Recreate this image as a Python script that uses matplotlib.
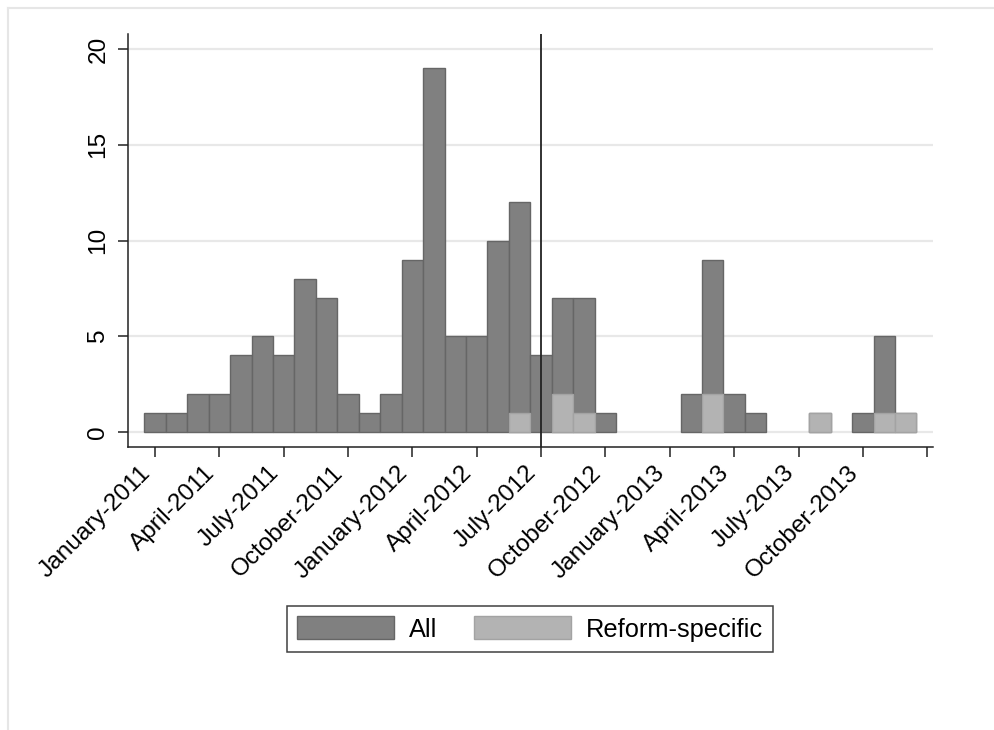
import matplotlib
matplotlib.use("Agg")
import matplotlib.pyplot as plt
from matplotlib.lines import Line2D
from matplotlib.patches import Patch
import numpy as np

plt.rcParams['font.family'] = ['Liberation Sans', 'DejaVu Sans']

# Monthly counts, January 2011 .. December 2013
months = ["Jan-2011", "Feb-2011", "Mar-2011", "Apr-2011", "May-2011", "Jun-2011",
          "Jul-2011", "Aug-2011", "Sep-2011", "Oct-2011", "Nov-2011", "Dec-2011",
          "Jan-2012", "Feb-2012", "Mar-2012", "Apr-2012", "May-2012", "Jun-2012",
          "Jul-2012", "Aug-2012", "Sep-2012", "Oct-2012", "Nov-2012", "Dec-2012",
          "Jan-2013", "Feb-2013", "Mar-2013", "Apr-2013", "May-2013", "Jun-2013",
          "Jul-2013", "Aug-2013", "Sep-2013", "Oct-2013", "Nov-2013", "Dec-2013"]
all_counts = [1, 1, 2, 2, 4, 5, 4, 8, 7, 2, 1, 2,
              9, 19, 5, 5, 10, 12, 4, 7, 7, 1, 0, 0,
              0, 2, 9, 2, 1, 0, 0, 1, 0, 1, 5, 1]
reform_counts = [0, 0, 0, 0, 0, 0, 0, 0, 0, 0, 0, 0,
                 0, 0, 0, 0, 0, 1, 0, 2, 1, 0, 0, 0,
                 0, 0, 2, 0, 0, 0, 0, 1, 0, 0, 1, 1]
tick_labels = ["January-2011", "April-2011", "July-2011", "October-2011",
               "January-2012", "April-2012", "July-2012", "October-2012",
               "January-2013", "April-2013", "July-2013", "October-2013", ""]
reform_month = "Jul-2012"

x = np.arange(len(months))

fig = plt.figure(figsize=(9.94, 7.30), dpi=100)
ax = fig.add_axes([128/994, 1 - 447/730, (933 - 128)/994, (447 - 34)/730])

# gridlines
ax.set_axisbelow(True)
ax.yaxis.grid(True, color='#e8e8e8', linewidth=1.6)

all_arr = np.array(all_counts)
ref_arr = np.array(reform_counts)
m_all = all_arr > 0
ax.bar(x[m_all], all_arr[m_all], width=1.0, color='#808080', edgecolor='#666666',
       linewidth=1.0, zorder=2)
m_ref = ref_arr > 0
ax.bar(x[m_ref], ref_arr[m_ref], width=1.0, color='#b3b3b3', edgecolor='#a3a3a3',
       linewidth=1.0, zorder=3)

ax.axvline(months.index(reform_month), color='#222222', linewidth=1.3, zorder=4)

ax.set_xlim(-1.26, 36.27)
ax.set_ylim(-0.78, 20.78)

ax.set_xticks(np.arange(0, 37, 3))
ax.set_xticklabels(tick_labels, rotation=45, ha='right', va='top')
ax.set_yticks([0, 5, 10, 15, 20])
ax.set_yticklabels(["0", "5", "10", "15", "20"], rotation=90, va='center')

ax.tick_params(axis='both', which='major', length=7.5, width=1.1, color='#222222',
               labelsize=17.6, direction='out')
ax.tick_params(axis='x', pad=3)
ax.tick_params(axis='y', pad=6)

for s in ['top', 'right']:
    ax.spines[s].set_visible(False)
for s in ['left', 'bottom']:
    ax.spines[s].set_linewidth(1.1)
    ax.spines[s].set_color('#222222')

handles = [Patch(facecolor='#808080', edgecolor='#666666', label='All'),
           Patch(facecolor='#b3b3b3', edgecolor='#a3a3a3', label='Reform-specific')]
leg = fig.legend(handles=handles, loc='center', bbox_to_anchor=(530/994, 1 - 629/730),
                 ncol=2, fontsize=18.3, frameon=True, fancybox=False, shadow=False,
                 handlelength=3.8, handleheight=1.0, handletextpad=0.6,
                 columnspacing=1.45, borderpad=0.4)
leg.get_frame().set_edgecolor('#111111')
leg.get_frame().set_linewidth(1.1)

# outer graph region frame (light)
fig.add_artist(Line2D([8/994, 1], [1 - 8/730, 1 - 8/730], transform=fig.transFigure,
                      color='#e6e6e6', linewidth=1.5))
fig.add_artist(Line2D([8/994, 8/994], [0, 1 - 8/730], transform=fig.transFigure,
                      color='#e6e6e6', linewidth=1.5))

fig.savefig("out.png", dpi=100, facecolor='white')
